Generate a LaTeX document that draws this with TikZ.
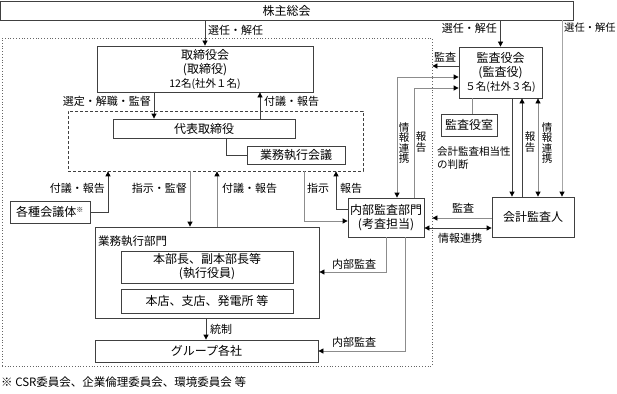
\documentclass[tikz,border=0pt]{standalone}
\usepackage{fontspec}
\setmainfont{Noto Sans CJK JP}
\usetikzlibrary{arrows.meta}
\begin{document}
\begin{tikzpicture}[x=1pt,y=-1pt,
  box/.style={draw=black!75, line width=0.8pt, inner sep=0pt, align=center, font=\fontsize{12}{14}\selectfont},
  lbl/.style={inner sep=0pt, font=\fontsize{11}{12}\selectfont},
  vlbl/.style={inner sep=0pt, align=center, font=\fontsize{10.5}{10.5}\selectfont},
  con/.style={draw=black!75, line width=0.8pt},
  gcon/.style={draw=black!45, line width=0.8pt},
  tip/.style={-{Triangle[length=5pt,width=5pt,color=black]}},
  dtip/.style={{Triangle[length=5pt,width=5pt,color=black]}-{Triangle[length=5pt,width=5pt,color=black]}},
]
\useasboundingbox (0,0) rectangle (617,393);

% outer dotted frame and inner dashed frame
\node[draw=black!60, dotted, line width=0.8pt, minimum width=430pt, minimum height=328pt, inner sep=0pt] (whole) at (217,202) {};
\node[draw=black!75, dash pattern=on 3pt off 2pt, line width=0.7pt, minimum width=295pt, minimum height=60pt, inner sep=0pt] (exec) at (215.5,141) {};

% boxes
\node[box, minimum width=573pt, minimum height=19pt] (kabu) at (286.5,10.5) {株主総会};
\node[box, minimum width=216pt, minimum height=46pt] (tori) at (205,69) {取締役会\\(取締役)\\{\fontsize{10.5}{14}\selectfont 12名(社外１名)}};
\node[box, minimum width=182pt, minimum height=19pt] (daihyo) at (204,128.5) {代表取締役};
\node[box, minimum width=98pt, minimum height=18pt] (kaigi) at (296,155) {業務執行会議};
\node[box, minimum width=80pt, minimum height=22pt] (kakushu) at (50,212) {各種会議体\textsuperscript{\fontsize{7}{7}\selectfont ※}};
\node[box, minimum width=224pt, minimum height=91pt] (bumon) at (207,272.5) {};
\node[lbl, anchor=west, font=\fontsize{11.5}{12}\selectfont] (bumonlbl) at (98,241) {業務執行部門};
\node[box, minimum width=172pt, minimum height=32pt] (honbu) at (207,267) {本部長、副本部長等\\(執行役員)};
\node[box, minimum width=172pt, minimum height=24pt] (honten) at (207,301) {本店、支店、発電所 等};
\node[box, minimum width=223pt, minimum height=22pt] (group) at (206.5,351) {グループ各社};
\node[box, minimum width=76pt, minimum height=39pt] (naibu) at (386,217.5) {内部監査部門\\(考査担当)};
\node[box, minimum width=83pt, minimum height=51pt] (kansa) at (500.5,72.5) {監査役会\\(監査役)\\{\fontsize{10.5}{14}\selectfont ５名(社外３名)}};
\node[box, minimum width=56pt, minimum height=22pt] (kansashitsu) at (469,125) {監査役室};
\node[box, minimum width=82pt, minimum height=40pt] (kaikei) at (533,217) {会計監査人};

% helper coordinates
\coordinate (x154) at (154,0);
\coordinate (x260) at (260,0);
\coordinate (x226) at (226,0);
\coordinate (x108) at (108,0);
\coordinate (x190) at (190,0);
\coordinate (x217) at (217,0);
\coordinate (x206) at (206,0);
\coordinate (x472) at (472,0);
\coordinate (x512) at (512,0);
\coordinate (x522) at (522,0);
\coordinate (x538) at (538,0);
\coordinate (x562) at (562,0);
\coordinate (y66) at (0,66);
\coordinate (y218) at (0,218);
\coordinate (y228) at (0,228);
\coordinate (c304) at (304,221);
\coordinate (c336) at (336,209);
\coordinate (c397) at (397,77);
\coordinate (c414) at (414,88);
\coordinate (c386) at (386,272);
\coordinate (c405) at (405,351);

% connectors
\draw[con, tip] (kabu.south -| tori.north) -- (tori.north);
\draw[con, tip] (tori.south -| x154) -- (daihyo.north -| x154);
\draw[con, tip] (daihyo.north -| x260) -- (tori.south -| x260);
\draw[con] (daihyo.south -| x226) |- (kaigi.west);
\draw[con, tip] (kakushu.east) -| (exec.south -| x108);
\draw[gcon, tip] (exec.south -| x190) -- (bumon.north -| x190);
\draw[gcon, tip] (bumon.north -| x217) -- (exec.south -| x217);
\draw[gcon, tip] (exec.south -| c304) -- (c304) -- (naibu.west |- c304);
\draw[con, tip] (naibu.west |- c336) -- (c336) -- (exec.south -| c336);
\draw[gcon, dtip] (naibu.north -| c397) -- (c397) -- (kansa.west |- c397);
\draw[gcon, tip] (naibu.north -| c414) -- (c414) -- (kansa.west |- c414);
\draw[con, tip] (kansa.west |- y66) -- (whole.east |- y66);
\draw[con, tip] (kabu.south -| kansa.north) -- (kansa.north);
\draw[draw=black!35, line width=0.8pt, tip] (kabu.south -| x562) -- (kaikei.north -| x562);
\draw[con, tip] (kansa.south -| x512) -- (kaikei.north -| x512);
\draw[con, tip] (kaikei.north -| x522) -- (kansa.south -| x522);
\draw[gcon, dtip] (kansa.south -| x538) -- (kaikei.north -| x538);
\draw[gcon] (kansa.south -| x472) -- (kansashitsu.north -| x472);
\draw[gcon, tip] (kaikei.west |- y218) -- (whole.east |- y218);
\draw[con, dtip] (kaikei.west |- y228) -- (naibu.east |- y228);
\draw[gcon, tip] (naibu.south -| c386) -- (c386) -- (bumon.east |- c386);
\draw[gcon, tip] (naibu.south -| c405) -- (c405) -- (group.east |- c405);
\draw[con, tip] (bumon.south -| x206) -- (group.north -| x206);

% labels
\node[lbl, anchor=west] (l1) at (208,30) {選任・解任};
\node[lbl, anchor=east] (l2) at (151,101) {選定・解職・監督};
\node[lbl, anchor=west] (l3) at (264,101) {付議・報告};
\node[lbl, anchor=east] (l4) at (105,188) {付議・報告};
\node[lbl, anchor=east] (l5) at (187,188) {指示・監督};
\node[lbl, anchor=west] (l6) at (222,188) {付議・報告};
\node[lbl, anchor=west] (l7) at (307,188) {指示};
\node[lbl, anchor=west] (l8) at (340,188) {報告};
\node[vlbl] (l9) at (404,143) {情\\報\\連\\携};
\node[vlbl] (l10) at (421,142) {報\\告};
\node[lbl, anchor=west] (l11) at (434,57) {監査};
\node[lbl, anchor=east] (l12) at (497,28) {選任・解任};
\node[lbl, anchor=west, font=\fontsize{10.3}{12}\selectfont] (l13) at (564,28) {選任・解任};
\node[lbl, anchor=west, align=left, font=\fontsize{10.5}{13}\selectfont] (l14) at (437,158) {会計監査相当性\\の判断};
\node[vlbl] (l15) at (530,142) {報\\告};
\node[vlbl] (l16) at (547,143) {情\\報\\連\\携};
\node[lbl] (l17) at (463,208) {監査};
\node[lbl] (l18) at (460,238) {情報連携};
\node[lbl] (l19) at (354,264) {内部監査};
\node[lbl] (l20) at (354,342) {内部監査};
\node[lbl, anchor=west] (l21) at (210,329) {統制};
\node[lbl, anchor=west, font=\fontsize{11.5}{12}\selectfont] (foot) at (1,382) {※ CSR委員会、企業倫理委員会、環境委員会 等};
\end{tikzpicture}
\end{document}
